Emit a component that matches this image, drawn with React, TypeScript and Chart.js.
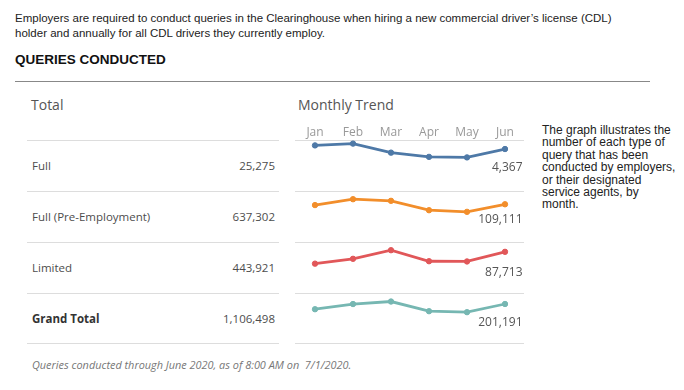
import React, { useEffect, useRef } from "react";
import { Chart, registerables } from "chart.js";

Chart.register(...registerables);

// ---------- data ----------
const MONTHS = ["Jan", "Feb", "Mar", "Apr", "May", "Jun"];
const QUERY_TYPES = ["Full", "Full (Pre-Employment)", "Limited", "Grand Total"];
const TOTALS = [25275, 637302, 443921, 1106498];
const FULL = [4676, 4831, 4058, 3695, 3648, 4367];
const FULL_PRE_EMPLOYMENT = [106699, 124306, 119481, 91264, 86441, 109111];
const LIMITED = [60870, 71826, 91364, 66348, 65800, 87713];
const GRAND_TOTAL = [172245, 200963, 214903, 161307, 155889, 201191];
const SERIES = [FULL, FULL_PRE_EMPLOYMENT, LIMITED, GRAND_TOTAL];

// ---------- styling / layout ----------
const COLORS = ["#4e79a7", "#f28e2b", "#e15759", "#76b7b2"];
const Y_RANGES: [number, number][] = [
  [1200, 5140],
  [10955, 133951],
  [5539, 98670],
  [7447, 234422],
];
const LABEL_DY = [27.7, 23.3, 26, 24.3];
const ROW_TOPS = [140, 191, 242, 293];
const ROW_H = 51;
const TAB_FONT = '"Open Sans", "Noto Sans", sans-serif';
const fmt = (n: number) => n.toLocaleString("en-US");

function Spark({ idx }: { idx: number }) {
  const ref = useRef<HTMLCanvasElement>(null);
  const showMonths = idx === 0;
  const padTop = showMonths ? 20 : 0;
  useEffect(() => {
    const data = SERIES[idx];
    const color = COLORS[idx];
    const lastLabel = fmt(data[data.length - 1]);
    const labelPlugin = {
      id: "sparkLabels" + idx,
      afterDatasetsDraw(chart: any) {
        const { ctx, chartArea, scales } = chart;
        ctx.save();
        ctx.font = `12px ${TAB_FONT}`;
        ctx.fillStyle = "#555";
        ctx.textAlign = "right";
        ctx.textBaseline = "middle";
        ctx.fillText(lastLabel, chartArea.right - 1.5, chartArea.top + LABEL_DY[idx]);
        if (showMonths) {
          ctx.fillStyle = "#999";
          ctx.textAlign = "center";
          MONTHS.forEach((m, i) => {
            ctx.fillText(m, scales.x.getPixelForValue(i), 12.5);
          });
        }
        ctx.restore();
      },
    };
    const chart = new Chart(ref.current!, {
      type: "line",
      data: {
        labels: MONTHS,
        datasets: [
          {
            data,
            borderColor: color,
            backgroundColor: color,
            pointBackgroundColor: color,
            pointBorderColor: color,
            borderWidth: 2.8,
            pointRadius: 2.7,
            pointBorderWidth: 1,
            tension: 0,
          },
        ],
      },
      options: {
        animation: false,
        responsive: false,
        maintainAspectRatio: false,
        layout: { padding: { top: padTop, left: 6, right: 6, bottom: 0 } },
        plugins: { legend: { display: false }, tooltip: { enabled: false } },
        scales: {
          x: { display: false, offset: true },
          y: { display: false, min: Y_RANGES[idx][0], max: Y_RANGES[idx][1] },
        },
      },
      plugins: [labelPlugin],
    });
    return () => chart.destroy();
  }, []);
  return (
    <canvas
      ref={ref}
      width={240}
      height={ROW_H + padTop}
      style={{
        position: "absolute",
        left: 290,
        top: ROW_TOPS[idx] - padTop,
        width: 240,
        height: ROW_H + padTop,
      }}
    />
  );
}

export default function App() {
  const lines = [140, 191, 242, 293, 343];
  return (
    <div
      style={{
        position: "absolute",
        left: 0,
        top: 0,
        width: 684,
        height: 390,
        background: "#fff",
        overflow: "hidden",
        fontFamily: '"Liberation Sans", Arial, sans-serif',
      }}
    >
      <div
        style={{
          position: "absolute",
          left: 15,
          top: 11,
          fontSize: 11.5,
          lineHeight: "14.5px",
          color: "#222",
          whiteSpace: "nowrap",
        }}
      >
        Employers are required to conduct queries in the Clearinghouse when hiring a new commercial driver’s license (CDL)
        <br />
        holder and annually for all CDL drivers they currently employ.
      </div>
      <div
        style={{
          position: "absolute",
          left: 15,
          top: 52,
          fontSize: 13.5,
          fontWeight: "bold",
          color: "#111",
          whiteSpace: "nowrap",
        }}
      >
        QUERIES CONDUCTED
      </div>
      <div style={{ position: "absolute", left: 15, top: 81, width: 635, height: 1, background: "#888" }} />

      <div
        style={{
          position: "absolute",
          left: 31,
          top: 95,
          fontSize: 14,
          color: "#555",
          fontFamily: TAB_FONT,
        }}
      >
        Total
      </div>
      <div
        style={{
          position: "absolute",
          left: 298,
          top: 95,
          fontSize: 14,
          color: "#555",
          fontFamily: TAB_FONT,
        }}
      >
        Monthly Trend
      </div>

      {lines.map((y) => (
        <React.Fragment key={y}>
          <div style={{ position: "absolute", left: 27, top: y, width: 252, height: 1, background: "#ddd" }} />
          <div style={{ position: "absolute", left: 295, top: y, width: 229, height: 1, background: "#ddd" }} />
        </React.Fragment>
      ))}

      {QUERY_TYPES.map((t, i) => (
        <div
          key={t}
          style={{
            position: "absolute",
            left: 32,
            top: ROW_TOPS[i],
            width: 243,
            height: ROW_H,
            display: "flex",
            alignItems: "center",
            justifyContent: "space-between",
            fontFamily: TAB_FONT,
            fontSize: 11.5,
            color: i === 3 ? "#333" : "#4d4d4d",
            fontWeight: i === 3 ? "bold" : "normal",
          }}
        >
          <span>{t}</span>
          <span style={{ fontWeight: "normal", color: "#4d4d4d" }}>{fmt(TOTALS[i])}</span>
        </div>
      ))}

      {SERIES.map((_, i) => (
        <Spark key={i} idx={i} />
      ))}

      <div
        style={{
          position: "absolute",
          left: 32,
          top: 357,
          fontSize: 10.9,
          fontStyle: "italic",
          color: "#777",
          fontFamily: TAB_FONT,
          whiteSpace: "pre",
        }}
      >
        Queries conducted through June 2020, as of 8:00 AM on  7/1/2020.
      </div>

      <div
        style={{
          position: "absolute",
          left: 542,
          top: 124,
          fontSize: 12,
          lineHeight: "12.4px",
          color: "#222",
          whiteSpace: "nowrap",
        }}
      >
        The graph illustrates the
        <br />
        number of each type of
        <br />
        query that has been
        <br />
        conducted by employers,
        <br />
        or their designated
        <br />
        service agents, by
        <br />
        month.
      </div>
    </div>
  );
}
